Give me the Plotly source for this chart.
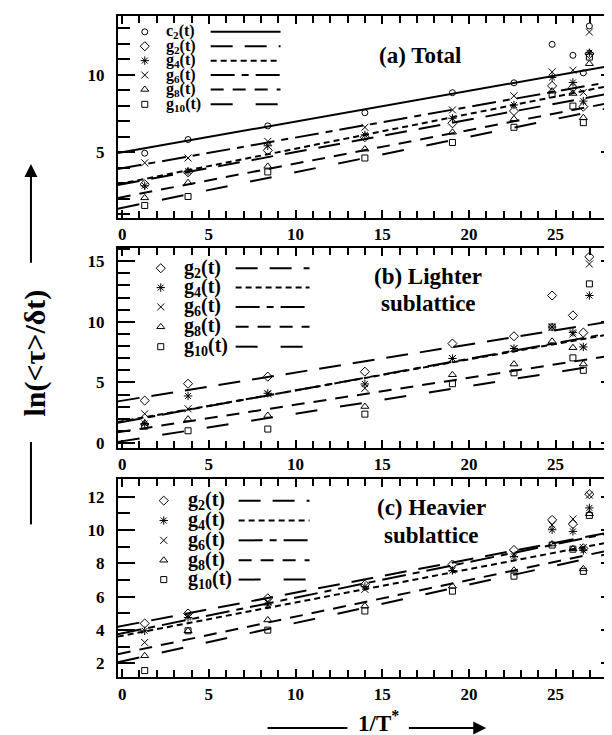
import plotly.graph_objects as go

# ---------------- data ----------------
X = [1.3, 3.8, 8.4, 14.0, 19.05, 22.6, 24.8, 26.0, 26.6, 26.95]

# panel (a) Total
A_C2 = [4.95, 5.83, 6.71, 7.56, 8.85, 9.49, 11.97, 11.26, 10.13, 13.15]
A_G2 = [2.95, 3.72, 5.13, 5.98, 6.88, 7.67, 9.29, 9.17, 7.95, 11.35]
A_G4 = [2.85, 3.78, 5.43, 6.13, 7.20, 8.06, 9.83, 9.51, 8.31, 11.43]
A_G6 = [4.33, 4.64, 5.71, 6.62, 7.74, 8.65, 10.19, 10.30, 8.87, 12.76]
A_G8 = [2.07, 3.05, 4.10, 5.21, 6.30, 7.16, 8.95, 8.80, 7.24, 10.72]
A_G10 = [1.58, 2.16, 3.74, 4.64, 5.64, 6.62, 8.74, 7.99, 6.92, 11.15]
# fit lines (intercept, slope)
A_FIT = {"c2": (5.01, 0.198), "g2": (2.95, 0.208), "g4": (3.00, 0.224),
         "g6": (3.98, 0.198), "g8": (2.12, 0.216), "g10": (1.43, 0.229)}

# panel (b) Lighter sublattice
B_G2 = [3.51, 4.90, 5.48, 5.89, 8.21, 8.81, 12.17, 10.53, 9.11, 15.37]
B_G4 = [1.62, 3.89, 4.11, 4.88, 6.98, 7.80, 9.57, 9.13, 7.93, 12.17]
B_G6 = [2.42, 2.83, 4.05, 4.52, 6.98, 7.80, 9.57, 9.00, 7.93, 14.77]
B_G8 = [1.65, 1.98, 2.28, 3.02, 5.64, 6.52, 8.40, 7.87, 6.52, None]
B_G10 = [1.40, 1.02, 1.16, 2.39, 4.90, 5.80, 9.57, 7.03, 6.00, 13.13]
B_FIT = {"g2": (3.50, 0.232), "g4": (1.80, 0.255), "g6": (1.75, 0.260),
         "g8": (0.95, 0.222), "g10": (0.16, 0.227)}

# panel (c) Heavier sublattice
C_G2 = [4.39, 4.99, 5.90, 6.72, 7.93, 8.80, 10.61, 10.36, 8.90, 12.15]
C_G4 = [3.95, 4.75, 5.50, 6.60, 7.57, 8.41, 10.02, 9.92, 8.78, 11.33]
C_G6 = [3.25, 4.85, 5.70, 6.44, 7.70, 8.55, 10.30, 10.66, 8.95, 12.10]
C_G8 = [2.45, 3.95, 4.60, 5.44, 6.63, 7.59, 9.16, 8.88, 7.67, 10.98]
C_G10 = [1.56, 3.95, 3.99, 5.14, 6.33, 7.23, 9.10, 8.85, 7.52, 10.88]
C_FIT = {"g2": (4.24, 0.200), "g4": (3.65, 0.200), "g6": (3.80, 0.214),
         "g8": (2.60, 0.220), "g10": (2.12, 0.230)}

LABELS = {"c2": "c<sub>2</sub>(t)", "g2": "g<sub>2</sub>(t)", "g4": "g<sub>4</sub>(t)",
          "g6": "g<sub>6</sub>(t)", "g8": "g<sub>8</sub>(t)", "g10": "g<sub>10</sub>(t)"}

X_TICKS = [0, 5, 10, 15, 20, 25]
Y_TICKS = [[5, 10], [0, 5, 10, 15], [2, 4, 6, 8, 10, 12]]

# ---------------- styles / layout ----------------
W, H = 612, 735
FONT = "Liberation Serif"
STYLE = {
    "c2": ("circle-open", "solid", 6),
    "g2": ("diamond-open", "22px,12px", 7),
    "g4": ("asterisk-open", "6px,4px", 7),
    "g6": ("x-thin-open", "24px,7px,7px,7px", 7),
    "g8": ("triangle-up-open", "13px,9px", 7),
    "g10": ("square-open", "22px,23px", 6),
}
PLOT_L, PLOT_R = 110, 611
PANEL_PX = [(8, 211), (241.5, 443), (474.5, 674)]
XR = [-0.25, 28.6]
YR = [[0.8, 13.8], [-0.4, 16.1], [1.15, 13.05]]

panels = [
    ({"c2": A_C2, "g2": A_G2, "g4": A_G4, "g6": A_G6, "g8": A_G8, "g10": A_G10}, A_FIT),
    ({"g2": B_G2, "g4": B_G4, "g6": B_G6, "g8": B_G8, "g10": B_G10}, B_FIT),
    ({"g2": C_G2, "g4": C_G4, "g6": C_G6, "g8": C_G8, "g10": C_G10}, C_FIT),
]

# legend placement (figure pixels)
LEG = [
    dict(mx=137, tx=156, l0=203, l1=273, rows=[24, 38.5, 53, 67.5, 82, 97], fs=16),
    dict(mx=153, tx=174, l0=228, l1=302, rows=[262, 281.5, 301, 321, 341], fs=20),
    dict(mx=156, tx=178, l0=231, l1=302, rows=[496, 516, 536, 556, 575.5], fs=20),
]
TITLES = [
    [("(a) Total", 413, 48)],
    [("(b) Lighter", 421, 270), ("sublattice", 421, 298)],
    [("(c) Heavier", 424, 503), ("sublattice", 424, 531)],
]

fig = go.Figure()
layout = dict(
    width=W, height=H, margin=dict(l=0, r=0, t=0, b=0),
    paper_bgcolor="white", plot_bgcolor="rgba(0,0,0,0)", showlegend=False,
    font=dict(family=FONT, color="black"),
)

tickfont = dict(family=FONT, size=17, color="black", weight="bold")


def xminor():
    return dict(dtick=1, tick0=0, ticks="inside", ticklen=7, tickwidth=1.5,
                tickcolor="black", showgrid=False)


def yminor():
    return dict(dtick=1, tick0=0, ticks="inside", ticklen=12, tickwidth=1.5,
                tickcolor="black", showgrid=False)


for i, (series, fits) in enumerate(panels):
    k = "" if i == 0 else str(i + 1)
    top, bot = PANEL_PX[i]
    xdom = [PLOT_L / W, PLOT_R / W]
    ydom = [1 - bot / H, 1 - top / H]
    layout["xaxis" + k] = dict(
        domain=xdom, range=XR, anchor="y" + k,
        showline=True, linewidth=2, linecolor="black", mirror=True,
        ticks="inside", ticklen=8, tickwidth=1.5, tickcolor="black",
        tickvals=X_TICKS, showgrid=False, zeroline=False, tickfont=tickfont,
        minor=xminor(),
    )
    layout["yaxis" + k] = dict(
        domain=ydom, range=YR[i], anchor="x" + k,
        showline=True, linewidth=2, linecolor="black", mirror=True,
        ticks="inside", ticklen=17, tickwidth=1.5, tickcolor="black",
        tickvals=Y_TICKS[i], showgrid=False, zeroline=False, tickfont=tickfont,
        ticklabelstandoff=8, minor=yminor(),
    )
    # mirrored tick axes (top / right)
    mk = str(i + 5)
    layout["xaxis" + mk] = dict(
        overlaying="x" + k, side="top", anchor="y" + k, range=XR,
        showline=False, ticks="inside", ticklen=8, tickwidth=1.5, tickcolor="black",
        tickvals=X_TICKS, showticklabels=False, showgrid=False, zeroline=False,
        minor=xminor(), fixedrange=True,
    )
    layout["yaxis" + mk] = dict(
        overlaying="y" + k, side="right", anchor="x" + k, range=YR[i],
        showline=False, ticks="inside", ticklen=17, tickwidth=1.5, tickcolor="black",
        tickvals=Y_TICKS[i], showticklabels=False, showgrid=False, zeroline=False,
        minor=yminor(), fixedrange=True,
    )
    fig.add_trace(go.Scatter(x=[None], y=[None], mode="markers",
                             xaxis="x" + mk, yaxis="y" + mk, hoverinfo="skip"))

    for name, ys in series.items():
        sym, dash, sz = STYLE[name]
        b, m = fits[name]
        fig.add_trace(go.Scatter(
            x=XR, y=[b + m * XR[0], b + m * XR[1]], mode="lines",
            line=dict(color="black", width=2, dash=dash),
            xaxis="x" + k, yaxis="y" + k, hoverinfo="skip"))
        fig.add_trace(go.Scatter(
            x=X, y=ys, mode="markers",
            marker=dict(symbol=sym, size=sz, color="black",
                        line=dict(width=1, color="black")),
            xaxis="x" + k, yaxis="y" + k, cliponaxis=False))

# overlay pixel axes for legends/decorations
layout["xaxis4"] = dict(domain=[0, 1], range=[0, W], anchor="y4", visible=False, fixedrange=True)
layout["yaxis4"] = dict(domain=[0, 1], range=[H, 0], anchor="x4", visible=False, fixedrange=True)

annotations = []
shapes = []
for i, (series, fits) in enumerate(panels):
    lg = LEG[i]
    for name, yy in zip(series.keys(), lg["rows"]):
        sym, dash, sz = STYLE[name]
        fig.add_trace(go.Scatter(
            x=[lg["mx"]], y=[yy], mode="markers",
            marker=dict(symbol=sym, size=sz, color="black", line=dict(width=1, color="black")),
            xaxis="x4", yaxis="y4", hoverinfo="skip"))
        fig.add_trace(go.Scatter(
            x=[lg["l0"], lg["l1"]], y=[yy, yy], mode="lines",
            line=dict(color="black", width=2, dash=dash),
            xaxis="x4", yaxis="y4", hoverinfo="skip"))
        annotations.append(dict(
            x=lg["tx"], y=yy, xref="x4", yref="y4", text=LABELS[name], showarrow=False,
            xanchor="left", yanchor="middle",
            font=dict(family=FONT, size=lg["fs"], color="black", weight="bold")))
    for (txt, tx, ty) in TITLES[i]:
        annotations.append(dict(
            x=tx, y=ty, xref="x4", yref="y4", text=txt, showarrow=False,
            xanchor="center", yanchor="middle",
            font=dict(family=FONT, size=23, color="black", weight="bold")))

# y-axis title with arrow
annotations.append(dict(
    x=27, y=347, xref="x4", yref="y4", text="ln(&lt;τ&gt;/δt)", textangle=-90,
    showarrow=False, font=dict(family=FONT, size=30, color="black", weight="bold")))
annotations.append(dict(
    x=23, y=157, xref="x4", yref="y4", ax=23, ay=258, axref="x4", ayref="y4",
    text="", showarrow=True, arrowhead=2, arrowsize=1.3, arrowwidth=2, arrowcolor="black"))
shapes.append(dict(type="line", xref="x4", yref="y4", x0=23, x1=23, y0=437, y1=520,
                   line=dict(color="black", width=2)))

# x-axis title with arrow
annotations.append(dict(
    x=371, y=718, xref="x4", yref="y4", text="1/T<sup>*</sup>", showarrow=False,
    yanchor="middle", font=dict(family=FONT, size=23, color="black", weight="bold")))
shapes.append(dict(type="line", xref="x4", yref="y4", x0=260, x1=340, y0=725, y1=725,
                   line=dict(color="black", width=2)))
annotations.append(dict(
    x=479, y=725, xref="x4", yref="y4", ax=400, ay=725, axref="x4", ayref="y4",
    text="", showarrow=True, arrowhead=2, arrowsize=1.3, arrowwidth=2, arrowcolor="black"))

layout["annotations"] = annotations
layout["shapes"] = shapes
fig.update_layout(**layout)
fig.write_html("out.html")
